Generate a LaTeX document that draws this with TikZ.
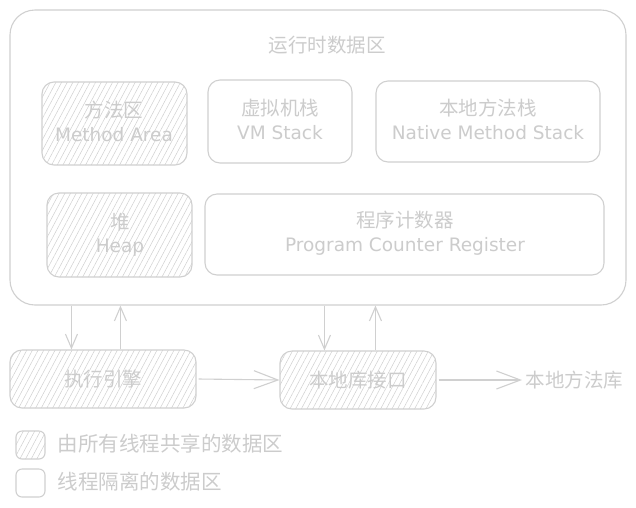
\documentclass[tikz,border=0pt]{standalone}
\usepackage{fontspec}
\setmainfont{Noto Sans CJK SC}
\newfontfamily\enfont{DejaVu Sans}
\usetikzlibrary{arrows.meta,patterns.meta}
\definecolor{lg}{RGB}{208,208,208}
\definecolor{lt}{RGB}{204,204,204}
\begin{document}
\begin{tikzpicture}[x=1pt,y=-1pt,
  box/.style={draw=lg,line width=1.1pt,rounded corners=12pt,text=lt,align=center,
    font=\fontsize{19.5}{26}\selectfont},
  shared/.style={box,pattern={Lines[angle=62,distance=5pt,line width=0.5pt]},pattern color=lg},
  en/.style={font=\enfont\fontsize{18.5}{20}\selectfont,text=lt},
  cn/.style={font=\fontsize{19.5}{22}\selectfont,text=lt},
  arr/.style={draw=lg,line width=1.1pt,-{Straight Barb[length=14pt,width=12pt,line width=1.1pt]}},
  harr/.style={draw=lg,line width=1.1pt,-{Straight Barb[length=24pt,width=18pt,line width=1.1pt]}}]
\useasboundingbox (0,0) rectangle (636,507);
\fill[white] (0,0) rectangle (636,507);
% outer
\node[draw=lg,line width=1.1pt,rounded corners=25pt,minimum width=616pt,minimum height=295pt] (outer) at (318,157.5) {};
\node[cn] (title) at (327,45) {运行时数据区};
% boxes
\node[shared,minimum width=145pt,minimum height=83pt] (method) at (114.5,123.5) {};
\node[cn] (methodcn) at (114,110) {方法区};
\node[en] (methoden) at (114,135) {Method Area};
\node[box,minimum width=144pt,minimum height=83pt] (vm) at (280,121.5) {};
\node[cn] (vmcn) at (280,108) {虚拟机栈};
\node[en] (vmen) at (280,133) {VM Stack};
\node[box,minimum width=224pt,minimum height=81pt] (native) at (488,121.5) {};
\node[cn] (nativecn) at (488,108) {本地方法栈};
\node[en] (nativeen) at (488,133) {Native Method Stack};
\node[shared,minimum width=145pt,minimum height=84pt] (heap) at (119.5,235) {};
\node[cn] (heapcn) at (120,222) {堆};
\node[en] (heapen) at (120,248) {Heap};
\node[box,minimum width=399pt,minimum height=81pt] (pc) at (404.5,234.5) {};
\node[cn] (pccn) at (405,220) {程序计数器};
\node[en] (pcen) at (405,246) {Program Counter Register};
% bottom
\node[shared,minimum width=186pt,minimum height=58pt] (exec) at (103,379) {执行引擎};
\node[shared,minimum width=156pt,minimum height=58pt] (nli) at (358,380) {本地库接口};
\node[cn,anchor=west] (lib) at (522,380) {本地方法库};
\draw[arr] ([xshift=62pt]exec.north west |- outer.south) -- ([xshift=62pt]exec.north west);
\draw[arr] ([xshift=111pt]exec.north west) -- ([xshift=111pt]exec.north west |- outer.south);
\draw[arr] ([xshift=45pt]nli.north west |- outer.south) -- ([xshift=45pt]nli.north west);
\draw[arr] ([xshift=96pt]nli.north west) -- ([xshift=96pt]nli.north west |- outer.south);
\draw[harr] ([xshift=2pt]exec.east) -- (nli.west);
\draw[harr] ([xshift=2pt]nli.east) -- (lib.west);
% legend
\node[shared,rounded corners=6pt,minimum width=29pt,minimum height=28pt] (lgshared) at (30.5,445) {};
\node[cn,anchor=west,font=\fontsize{20.5}{22}\selectfont] (lgsharedt) at (54,444) {由所有线程共享的数据区};
\node[box,rounded corners=6pt,minimum width=29pt,minimum height=28pt] (lgiso) at (30.5,483) {};
\node[cn,anchor=west,font=\fontsize{20.5}{22}\selectfont] (lgisot) at (54,482) {线程隔离的数据区};
\end{tikzpicture}
\end{document}
